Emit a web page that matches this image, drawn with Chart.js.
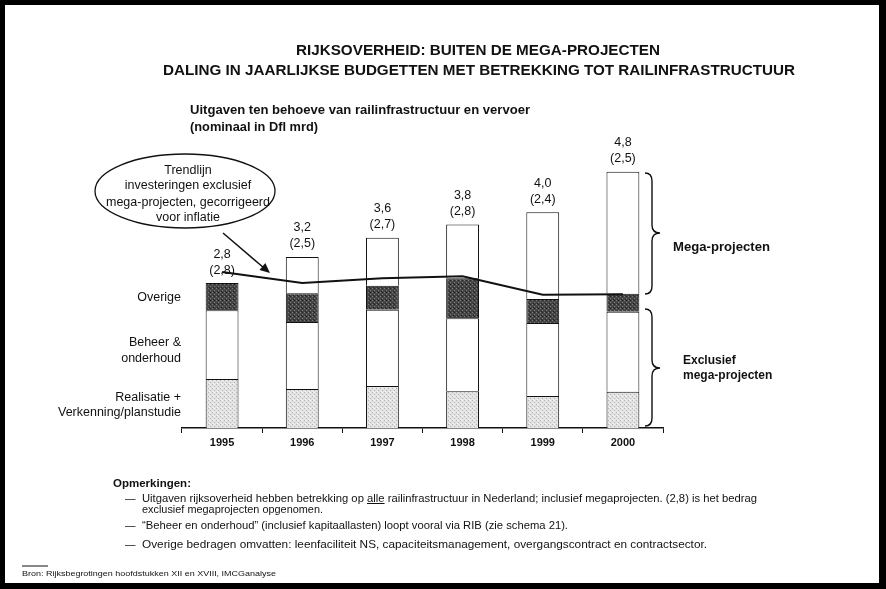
<!DOCTYPE html>
<html>
<head>
<meta charset="utf-8">
<script src="https://cdn.jsdelivr.net/npm/chart.js@4.4.0/dist/chart.umd.min.js"></script>
<style>
  html, body { margin: 0; padding: 0; background: #fff; }
  #page { position: relative; width: 886px; height: 589px; overflow: hidden; background: #fff;
          font-family: "Liberation Sans", Arial, sans-serif; color: #111; }
  #frame { position: absolute; left: 0; top: 0; width: 886px; height: 589px; box-sizing: border-box;
           border: solid #000; border-width: 5px 7px 6px 5px; pointer-events: none; }
  canvas, svg { position: absolute; left: 0; top: 0; }
  .t { position: absolute; white-space: nowrap; line-height: 14px; height: 14px; transform-origin: left center; }
  .b { font-weight: bold; }
  .r { text-align: right; }
  .c { text-align: center; }
</style>
</head>
<body>
<div id="page">
  <canvas id="chart" width="886" height="589"></canvas>
  <svg width="886" height="589">
    <!-- callout -->
    <ellipse cx="185" cy="191" rx="90" ry="37" fill="none" stroke="#111" stroke-width="1.3"/>
    <line x1="223" y1="233" x2="264" y2="268" stroke="#111" stroke-width="1.5"/>
    <polygon points="270,273 259.5,269.9 265.3,263.1" fill="#111"/>
    <!-- braces -->
    <path d="M645,173 Q652,173 652,181 L652,225 Q652,233 660,233 Q652,233 652,241 L652,286 Q652,294 645,294"
          fill="none" stroke="#111" stroke-width="1.4"/>
    <path d="M645,309 Q652,309 652,317 L652,360 Q652,368 660,368 Q652,368 652,376 L652,418 Q652,426 645,426"
          fill="none" stroke="#111" stroke-width="1.4"/>
    <!-- footnote rule -->
    <line x1="22" y1="566" x2="48" y2="566" stroke="#111" stroke-width="1"/>
  </svg>

  <div class="t b" style="left:296px;top:43px;font-size:15px" data-w="364">RIJKSOVERHEID: BUITEN DE MEGA-PROJECTEN</div>
  <div class="t b" style="left:163px;top:63px;font-size:15px" data-w="632">DALING IN JAARLIJKSE BUDGETTEN MET BETREKKING TOT RAILINFRASTRUCTUUR</div>

  <div class="t b" style="left:190px;top:103px;font-size:12px" data-w="340">Uitgaven ten behoeve van railinfrastructuur en vervoer</div>
  <div class="t b" style="left:190px;top:120px;font-size:12px" data-w="128">(nominaal in Dfl mrd)</div>

  <div class="t c" style="left:88px;top:163px;width:200px;font-size:12.5px">Trendlijn</div>
  <div class="t c" style="left:88px;top:178px;width:200px;font-size:12.5px">investeringen exclusief</div>
  <div class="t c" style="left:88px;top:195px;width:200px;font-size:12.5px">mega-projecten, gecorrigeerd</div>
  <div class="t c" style="left:88px;top:210px;width:200px;font-size:12.5px">voor inflatie</div>

  <div class="t r" style="left:0;width:181px;top:290px;font-size:12.5px">Overige</div>
  <div class="t r" style="left:0;width:181px;top:335px;font-size:12.5px">Beheer &amp;</div>
  <div class="t r" style="left:0;width:181px;top:351px;font-size:12.5px">onderhoud</div>
  <div class="t r" style="left:0;width:181px;top:390px;font-size:12.5px">Realisatie +</div>
  <div class="t r" style="left:0;width:181px;top:405px;font-size:12.5px">Verkenning/planstudie</div>

  <div class="t b" style="left:673px;top:240px;font-size:12px" data-w="97">Mega-projecten</div>
  <div class="t b" style="left:683px;top:353px;font-size:12px">Exclusief</div>
  <div class="t b" style="left:683px;top:368px;font-size:12px">mega-projecten</div>

  <div class="t b" style="left:113px;top:476px;font-size:11.5px">Opmerkingen:</div>
  <div class="t" style="left:125px;top:491px;font-size:10.5px">&mdash;</div>
  <div class="t" style="left:142px;top:491px;font-size:10.5px" data-w="615">Uitgaven rijksoverheid hebben betrekking op <u>alle</u> railinfrastructuur in Nederland; inclusief megaprojecten. (2,8) is het bedrag</div>
  <div class="t" style="left:142px;top:502px;font-size:10.5px" data-w="181">exclusief megaprojecten opgenomen.</div>
  <div class="t" style="left:125px;top:518px;font-size:10.5px">&mdash;</div>
  <div class="t" style="left:142px;top:518px;font-size:10.5px" data-w="426">&ldquo;Beheer en onderhoud&rdquo; (inclusief kapitaallasten) loopt vooral via RIB (zie schema 21).</div>
  <div class="t" style="left:125px;top:537px;font-size:10.5px">&mdash;</div>
  <div class="t" style="left:142px;top:537px;font-size:10.5px" data-w="565">Overige bedragen omvatten: leenfaciliteit NS, capaciteitsmanagement, overgangscontract en contractsector.</div>

  <div class="t" style="left:22px;top:567px;font-size:8px" data-w="254">Bron: Rijksbegrotingen hoofdstukken XII en XVIII, IMCGanalyse</div>

  <div id="frame"></div>
</div>

<script>
// values in Dfl mrd
const years = ['1995', '1996', '1997', '1998', '1999', '2000'];
const realisatie = [0.92, 0.73, 0.79, 0.69, 0.60, 0.68];
const beheer = [1.29, 1.26, 1.43, 1.37, 1.37, 1.50];
const overige = [0.51, 0.54, 0.45, 0.75, 0.45, 0.34];
const mega = [null, 0.68, 0.90, 1.01, 1.63, 2.29];
const trend = [2.93, 2.72, 2.81, 2.85, 2.50, 2.51];
const totalLabels = ['2,8', '3,2', '3,6', '3,8', '4,0', '4,8'];
const exclLabels = ['(2,8)', '(2,5)', '(2,7)', '(2,8)', '(2,4)', '(2,5)'];

// squeeze text to the widths in the scan
document.querySelectorAll('[data-w]').forEach(el => {
  const w = el.getBoundingClientRect().width;
  el.style.transform = `scaleX(${el.dataset.w / w})`;
});

const ctx = document.getElementById('chart').getContext('2d');

function stipple(base, dot, dot2) {
  const c = document.createElement('canvas');
  c.width = 4; c.height = 4;
  const g = c.getContext('2d');
  g.fillStyle = base; g.fillRect(0, 0, 4, 4);
  g.fillStyle = dot; g.fillRect(0, 0, 1, 1); g.fillRect(2, 2, 1, 1);
  g.fillStyle = dot2; g.fillRect(2, 0, 1, 1); g.fillRect(1, 3, 1, 1);
  return ctx.createPattern(c, 'repeat');
}

const lightFill = stipple('#e2e2e2', '#b4b4b4', '#f4f4f4');
const darkFill = stipple('#464646', '#7a7a7a', '#242424');

const valueLabels = {
  id: 'valueLabels',
  afterDatasetsDraw(chart) {
    const { ctx, scales: { x, y } } = chart;
    ctx.save();
    ctx.fillStyle = '#111';
    ctx.font = '12.5px "Liberation Sans", Arial, sans-serif';
    ctx.textAlign = 'center';
    ctx.textBaseline = 'middle';
    years.forEach((yr, i) => {
      const total = realisatie[i] + beheer[i] + overige[i] + (mega[i] || 0);
      const px = x.getPixelForValue(i);
      const py = y.getPixelForValue(total);
      ctx.fillText(totalLabels[i], px, py - 29);
      ctx.fillText(exclLabels[i], px, py - 13);
    });
    ctx.restore();
  }
};

const barStyle = { borderColor: '#111', borderWidth: 1, stack: 'a', order: 1 };

new Chart(ctx, {
  type: 'bar',
  data: {
    labels: years,
    datasets: [
      { label: 'Realisatie + Verkenning/planstudie', data: realisatie, backgroundColor: lightFill, ...barStyle },
      { label: 'Beheer & onderhoud', data: beheer, backgroundColor: '#fff', ...barStyle },
      { label: 'Overige', data: overige, backgroundColor: darkFill, ...barStyle },
      { label: 'Mega-projecten', data: mega, backgroundColor: '#fff', ...barStyle },
      { type: 'line', label: 'Trendlijn', data: trend, stack: 'trend', order: 0,
        borderColor: '#111', borderWidth: 2, pointRadius: 0, tension: 0, fill: false }
    ]
  },
  options: {
    responsive: false,
    animation: false,
    categoryPercentage: 1,
    barPercentage: 0.41,
    layout: { padding: { left: 182, right: 223, top: 135, bottom: 136 } },
    plugins: { legend: { display: false }, tooltip: { enabled: false } },
    scales: {
      x: {
        stacked: true,
        offset: true,
        grid: { offset: true, drawOnChartArea: false, tickLength: 5, color: '#111', lineWidth: 1 },
        border: { color: '#111', width: 1.5 },
        ticks: { color: '#111', padding: 3, font: { family: 'Liberation Sans', size: 11, weight: 'bold' } },
        afterFit: s => { s.height = 25; }
      },
      y: { stacked: true, display: false, min: 0, max: 5.5 }
    }
  },
  plugins: [valueLabels]
});
</script>
</body>
</html>
